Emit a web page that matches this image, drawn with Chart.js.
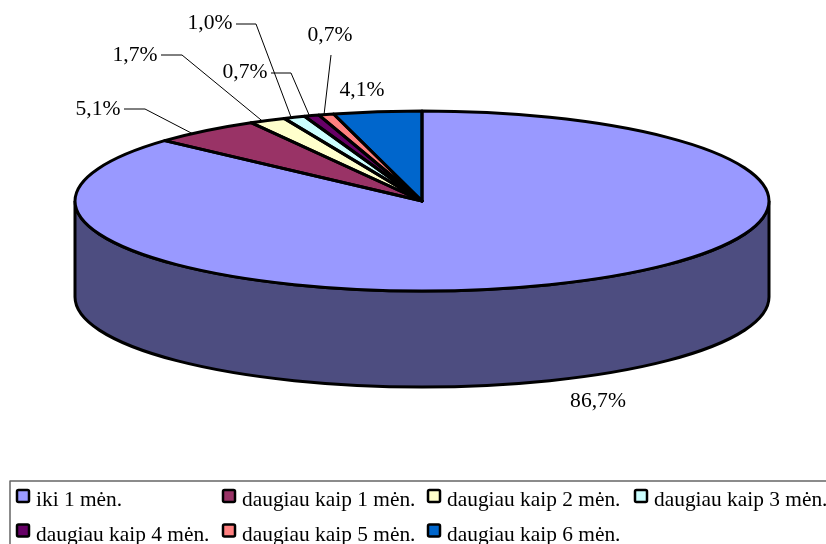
<!DOCTYPE html>
<html lang="lt">
<head>
  <meta charset="UTF-8" />
  <title>Pie</title>
  <script src="https://cdn.jsdelivr.net/npm/chart.js"></script>
  <style>
    body { margin: 0; background: #fff; }
    canvas { display: block; }
  </style>
</head>
<body>
  <canvas id="pie" width="826" height="544"></canvas>
  <script>
    const categories = ['iki 1 mėn.', 'daugiau kaip 1 mėn.', 'daugiau kaip 2 mėn.', 'daugiau kaip 3 mėn.',
      'daugiau kaip 4 mėn.', 'daugiau kaip 5 mėn.', 'daugiau kaip 6 mėn.'];
    const shares = [86.7, 5.1, 1.7, 1.0, 0.7, 0.7, 4.1];
    const colors = ['#9999ff', '#993366', '#ffffcc', '#ccffff', '#660066', '#ff8080', '#0066cc'];
    const sideColors = ['#4d4d80', '#4d1a33', '#808066', '#668080', '#330033', '#804040', '#003366'];

    // pie geometry
    const RX = 347, RY = 90, DEPTH = 96;
    const FONT = '"Liberation Serif", serif';

    // label centre and, if any, where its leader line starts and bends
    const labelSpots = [
      { x: 598, y: 401 },
      { x: 98, y: 109, from: [124, 109], bend: [145, 109] },
      { x: 135, y: 55, from: [161, 55], bend: [182, 55] },
      { x: 210, y: 23, from: [236, 24], bend: [256, 24] },
      { x: 245, y: 72, from: [271, 73], bend: [291, 73] },
      { x: 330, y: 35, from: [331, 55] },
      { x: 362, y: 90 }
    ];

    const legendCols = [17, 223, 428, 635];
    const legendRows = [496, 530.5];

    const pie3d = {
      id: 'pie3d',
      beforeDatasetsDraw(chart) {
        const ctx = chart.ctx;
        const arcs = chart.getDatasetMeta(0).data;
        const cx = arcs[0].x, cy = arcs[0].y;

        // side wall, only the part of each slice facing the viewer
        arcs.forEach((arc, i) => {
          const s = Math.max(arc.startAngle, 0), e = Math.min(arc.endAngle, Math.PI);
          if (e <= s) return;
          ctx.beginPath();
          ctx.ellipse(cx, cy, RX, RY, 0, s, e);
          ctx.ellipse(cx, cy + DEPTH, RX, RY, 0, e, s, true);
          ctx.closePath();
          ctx.fillStyle = sideColors[i];
          ctx.fill();
          ctx.lineWidth = 3;
          ctx.strokeStyle = '#000';
          ctx.stroke();
        });

        // squash the circle Chart.js draws into the top ellipse
        ctx.save();
        ctx.translate(cx, cy);
        ctx.scale(1, RY / RX);
        ctx.translate(-cx, -cy);
      },
      afterDatasetsDraw(chart) {
        const ctx = chart.ctx;
        ctx.restore();
        const arcs = chart.getDatasetMeta(0).data;
        const cx = arcs[0].x, cy = arcs[0].y;

        // outlines after the restore so the line width stays even
        arcs.forEach(arc => {
          ctx.beginPath();
          ctx.moveTo(cx, cy);
          ctx.ellipse(cx, cy, RX, RY, 0, arc.startAngle, arc.endAngle);
          ctx.closePath();
          ctx.lineWidth = 3;
          ctx.lineJoin = 'round';
          ctx.strokeStyle = '#000';
          ctx.stroke();
        });

        // value labels and leader lines
        ctx.font = '21.6px ' + FONT;
        ctx.fillStyle = '#000';
        ctx.textAlign = 'center';
        ctx.textBaseline = 'middle';
        arcs.forEach((arc, i) => {
          const spot = labelSpots[i];
          ctx.fillText(shares[i].toFixed(1).replace('.', ',') + '%', spot.x, spot.y);
          if (!spot.from) return;
          // leaders land a bit before the middle of the slice rim
          const end = arc.startAngle + (arc.endAngle - arc.startAngle) * 0.35;
          ctx.beginPath();
          ctx.moveTo(spot.from[0], spot.from[1]);
          if (spot.bend) ctx.lineTo(spot.bend[0], spot.bend[1]);
          ctx.lineTo(cx + RX * Math.cos(end), cy + RY * Math.sin(end));
          ctx.lineWidth = 1;
          ctx.stroke();
        });
      },
      afterDraw(chart) {
        const ctx = chart.ctx;
        ctx.strokeStyle = '#666';
        ctx.lineWidth = 1.5;
        ctx.strokeRect(10, 481, 830, 80);

        ctx.font = '21.4px ' + FONT;
        ctx.textAlign = 'left';
        ctx.textBaseline = 'alphabetic';
        categories.forEach((name, i) => {
          const x = legendCols[i % 4], y = legendRows[Math.floor(i / 4)];
          ctx.beginPath();
          ctx.roundRect(x, y - 6, 12, 12, 1.5);
          ctx.fillStyle = colors[i];
          ctx.fill();
          ctx.lineWidth = 2.5;
          ctx.strokeStyle = '#000';
          ctx.stroke();
          ctx.fillStyle = '#000';
          ctx.fillText(name, x + 19, y + 10);
        });
      }
    };

    new Chart(document.getElementById('pie').getContext('2d'), {
      type: 'pie',
      data: {
        labels: categories,
        datasets: [{
          data: shares,
          backgroundColor: colors,
          borderWidth: 0,
          clip: false
        }]
      },
      options: {
        responsive: false,
        animation: false,
        radius: RX,
        layout: { padding: { left: 18, right: 0, top: 0, bottom: 142 } },
        plugins: { legend: { display: false }, tooltip: { enabled: false } }
      },
      plugins: [pie3d]
    });
  </script>
</body>
</html>
